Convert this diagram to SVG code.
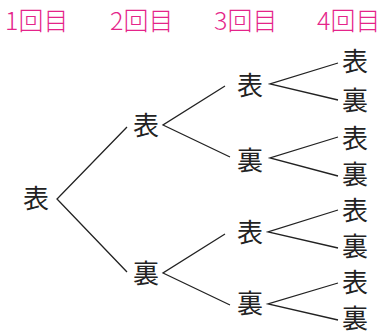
<svg xmlns="http://www.w3.org/2000/svg" width="386" height="334" viewBox="0 0 386 334">
<style>
.h{font-family:"Noto Sans CJK JP","Noto Sans",sans-serif;font-size:25px;font-weight:300;fill:#e5248a;text-anchor:start}
.n{font-family:"Noto Sans CJK JP",sans-serif;font-size:26px;font-weight:400;fill:#222;text-anchor:middle}
.e{stroke:#222;stroke-width:1.3;fill:none}
</style>
<rect width="386" height="334" fill="#fff"/>
<g id="headers">
<text class="h" x="5" y="30">1回目</text>
<text class="h" x="110" y="30">2回目</text>
<text class="h" x="214" y="30">3回目</text>
<text class="h" x="317" y="30">4回目</text>
</g>
<g id="connectors">
<polyline class="e" points="127,127 57,199 127,272"/>
<polyline class="e" points="225,86 163,125 230,157"/>
<polyline class="e" points="225,234 163,273 230,305"/>
<polyline class="e" points="338,63 270,84 338,100"/>
<polyline class="e" points="338,137 270,158 338,176"/>
<polyline class="e" points="338,210 268,232 338,248"/>
<polyline class="e" points="338,283 268,304 338,320"/>
</g>
<g id="root"><text class="n" x="36" y="208">表</text></g>
<g id="n2a"><text class="n" x="146" y="135">表</text></g>
<g id="n2b"><text class="n" x="146" y="283">裏</text></g>
<g id="n3a"><text class="n" x="250" y="95">表</text></g>
<g id="n3b"><text class="n" x="250" y="170">裏</text></g>
<g id="n3c"><text class="n" x="250" y="242">表</text></g>
<g id="n3d"><text class="n" x="250" y="313">裏</text></g>
<g id="n4a"><text class="n" x="355" y="71">表</text></g>
<g id="n4b"><text class="n" x="355" y="110">裏</text></g>
<g id="n4c"><text class="n" x="355" y="148">表</text></g>
<g id="n4d"><text class="n" x="355" y="184">裏</text></g>
<g id="n4e"><text class="n" x="355" y="220">表</text></g>
<g id="n4f"><text class="n" x="355" y="256">裏</text></g>
<g id="n4g"><text class="n" x="355" y="292">表</text></g>
<g id="n4h"><text class="n" x="355" y="328">裏</text></g>
</svg>
